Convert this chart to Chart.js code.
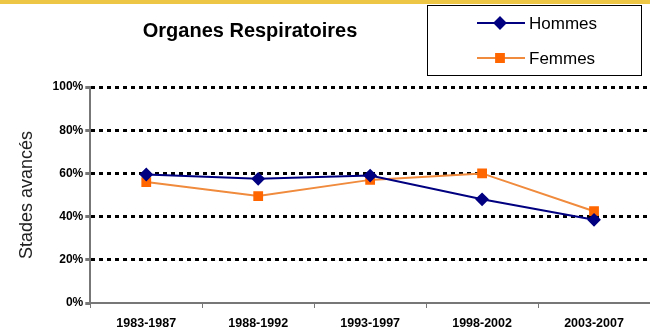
<!DOCTYPE html>
<html>
<head>
<meta charset="utf-8">
<script src="https://cdn.jsdelivr.net/npm/chart.js@4/dist/chart.umd.min.js"></script>
<style>
  html, body { margin: 0; padding: 0; background: #fff; }
  #wrap { width: 650px; height: 333px; position: relative; }
</style>
</head>
<body>
<div id="wrap"><canvas id="c" width="650" height="333"></canvas></div>
<script>
'use strict';

// périodes et pourcentages de stades avancés
const periodes = ['1983-1987', '1988-1992', '1993-1997', '1998-2002', '2003-2007'];
const hommes = [59.5, 57.5, 59, 48, 38.5];
const femmes = [56, 49.5, 57, 60, 42.5];
const yTicks = [0, 20, 40, 60, 80, 100];
const titre = 'Organes Respiratoires';
const axeY = 'Stades avancés';

const FONT = '"Liberation Sans", Arial, sans-serif';

// fond blanc, filet jaune, titre et cadre de légende
const decor = {
  id: 'decor',
  beforeDraw(chart) {
    const ctx = chart.ctx;
    ctx.save();
    ctx.fillStyle = '#fff';
    ctx.fillRect(0, 0, chart.width, chart.height);
    ctx.fillStyle = '#EEC646';
    ctx.fillRect(0, 0, chart.width, 4);
    ctx.restore();
  },
  afterDraw(chart) {
    const ctx = chart.ctx;
    ctx.save();
    ctx.fillStyle = '#000';
    ctx.font = 'bold 20px ' + FONT;
    ctx.textAlign = 'center';
    ctx.textBaseline = 'middle';
    ctx.fillText(titre, 250, 31);

    ctx.strokeStyle = '#000';
    ctx.lineWidth = 1;
    ctx.strokeRect(427.5, 5.5, 214, 70);

    ctx.font = '17px ' + FONT;
    ctx.textAlign = 'left';
    chart.data.datasets.forEach((ds, i) => {
      const y = 23 + i * 35;
      ctx.strokeStyle = ds.borderColor;
      ctx.lineWidth = 2;
      ctx.beginPath();
      ctx.moveTo(477, y);
      ctx.lineTo(525, y);
      ctx.stroke();
      ctx.fillStyle = ds.pointBackgroundColor;
      ctx.strokeStyle = ds.pointBackgroundColor;
      Chart.helpers.drawPoint(ctx, { pointStyle: ds.pointStyle, radius: 5.5, rotation: 0, borderWidth: 1 }, 500, y);
      ctx.fillStyle = '#000';
      ctx.fillText(ds.label, 529, y + 1);
    });
    ctx.restore();
  }
};

new Chart(document.getElementById('c'), {
  type: 'line',
  data: {
    labels: periodes,
    datasets: [
      {
        label: 'Hommes',
        data: hommes,
        borderColor: '#000080',
        borderWidth: 2,
        pointStyle: 'rectRot',
        pointRadius: 5.5,
        pointBackgroundColor: '#000080',
        pointBorderColor: '#000080',
        tension: 0
      },
      {
        label: 'Femmes',
        data: femmes,
        borderColor: '#F08A3C',
        borderWidth: 2,
        pointStyle: 'rect',
        pointRadius: 5.5,
        pointBackgroundColor: '#FF6600',
        pointBorderColor: '#FF6600',
        tension: 0
      }
    ]
  },
  options: {
    responsive: false,
    animation: false,
    layout: { autoPadding: false, padding: { top: 87, right: 0, bottom: 0, left: 16 } },
    plugins: {
      legend: { display: false },
      title: { display: false },
      tooltip: { enabled: false }
    },
    scales: {
      x: {
        offset: true,
        afterFit(scale) { scale.height = 30; },
        grid: {
          offset: true,
          drawOnChartArea: false,
          drawTicks: true,
          tickLength: 5,
          tickColor: '#777'
        },
        border: { color: '#777', width: 2 },
        ticks: {
          color: '#000',
          padding: 8,
          font: { family: FONT, size: 12.5, weight: 'bold' }
        }
      },
      y: {
        min: 0,
        max: 100,
        afterBuildTicks(scale) {
          scale.ticks = yTicks.map(v => ({ value: v }));
        },
        grid: {
          color: ctx => (ctx.tick && ctx.tick.value === 0 ? 'rgba(0,0,0,0)' : '#000'),
          lineWidth: 3,
          drawTicks: true,
          tickLength: 5,
          tickColor: '#777'
        },
        border: { color: '#777', width: 2, dash: [4, 4] },
        ticks: {
          color: '#000',
          padding: 2,
          font: { family: FONT, size: 12, weight: 'bold' },
          callback: v => v + '%'
        },
        title: {
          display: true,
          text: axeY,
          color: '#222',
          padding: { top: 0, bottom: 13 },
          font: { family: FONT, size: 18 }
        }
      }
    }
  },
  plugins: [decor]
});
</script>
</body>
</html>
